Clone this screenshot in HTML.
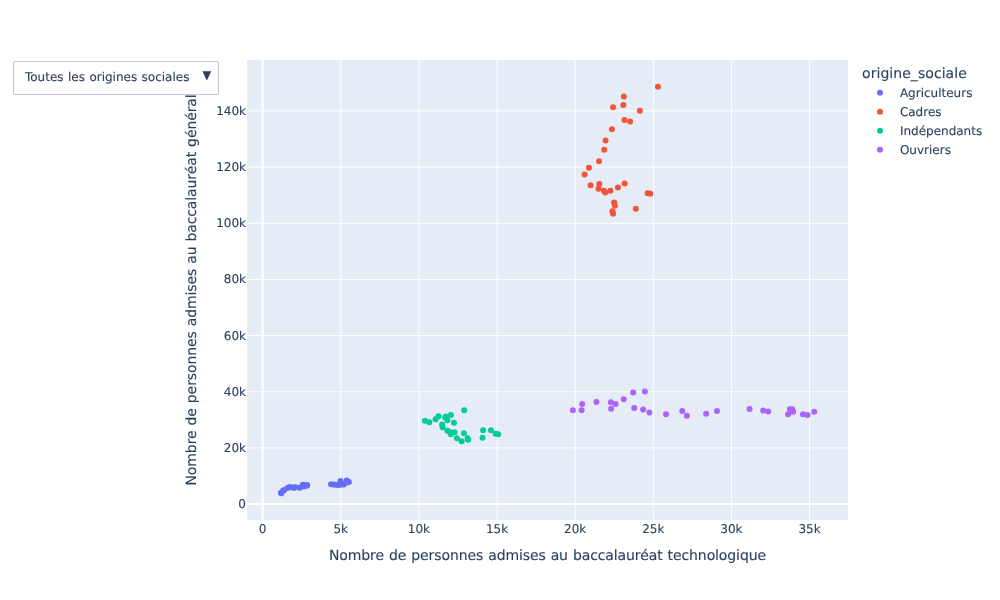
<!DOCTYPE html>
<html lang="fr"><head><meta charset="utf-8"><title>Baccalauréat par origine sociale</title>
<style>
html,body{margin:0;padding:0;background:#fff;}
body{width:1000px;height:600px;overflow:hidden;}
svg{display:block;}
text{text-rendering:geometricPrecision;stroke:#2a3f5f;stroke-width:0.12px;font-family:"DejaVu Sans","Verdana","Liberation Sans",sans-serif;fill:#2a3f5f;}
.t12{font-size:12px;} .t14{font-size:14px;} .ws{word-spacing:0.7px;}
</style></head><body>
<svg width="1000" height="600" viewBox="0 0 1000 600">
<rect x="0" y="0" width="1000" height="600" fill="#fff"/>
<rect x="247" y="60" width="601" height="460" fill="#E5ECF6"/>
<g stroke="#fff" stroke-width="1" shape-rendering="auto"><line x1="340.79" y1="60" x2="340.79" y2="520"/><line x1="418.92" y1="60" x2="418.92" y2="520"/><line x1="497.06" y1="60" x2="497.06" y2="520"/><line x1="575.19" y1="60" x2="575.19" y2="520"/><line x1="653.33" y1="60" x2="653.33" y2="520"/><line x1="731.46" y1="60" x2="731.46" y2="520"/><line x1="809.60" y1="60" x2="809.60" y2="520"/><line x1="247" y1="447.89" x2="848" y2="447.89"/><line x1="247" y1="391.74" x2="848" y2="391.74"/><line x1="247" y1="335.58" x2="848" y2="335.58"/><line x1="247" y1="279.42" x2="848" y2="279.42"/><line x1="247" y1="223.26" x2="848" y2="223.26"/><line x1="247" y1="167.11" x2="848" y2="167.11"/><line x1="247" y1="110.95" x2="848" y2="110.95"/></g>
<g stroke="#fff" stroke-width="2"><line x1="262.65" y1="60" x2="262.65" y2="520"/><line x1="247" y1="504.05" x2="848" y2="504.05"/></g>
<g opacity="1"><circle cx="281.00" cy="492.70" r="3" fill="#636efa"/><circle cx="281.30" cy="493.15" r="3" fill="#636efa"/><circle cx="306.90" cy="485.70" r="3" fill="#636efa"/><circle cx="303.00" cy="484.75" r="3" fill="#636efa"/><circle cx="283.20" cy="490.60" r="3" fill="#636efa"/><circle cx="284.30" cy="490.00" r="3" fill="#636efa"/><circle cx="287.50" cy="488.00" r="3" fill="#636efa"/><circle cx="289.60" cy="486.90" r="3" fill="#636efa"/><circle cx="292.50" cy="487.50" r="3" fill="#636efa"/><circle cx="294.40" cy="487.70" r="3" fill="#636efa"/><circle cx="295.40" cy="487.25" r="3" fill="#636efa"/><circle cx="299.60" cy="487.75" r="3" fill="#636efa"/><circle cx="302.90" cy="484.90" r="3" fill="#636efa"/><circle cx="303.75" cy="486.50" r="3" fill="#636efa"/><circle cx="307.10" cy="485.05" r="3" fill="#636efa"/><circle cx="331.05" cy="484.20" r="3" fill="#636efa"/><circle cx="333.30" cy="484.45" r="3" fill="#636efa"/><circle cx="335.50" cy="484.85" r="3" fill="#636efa"/><circle cx="338.00" cy="484.90" r="3" fill="#636efa"/><circle cx="340.30" cy="484.70" r="3" fill="#636efa"/><circle cx="340.40" cy="480.95" r="3" fill="#636efa"/><circle cx="343.65" cy="484.40" r="3" fill="#636efa"/><circle cx="346.15" cy="482.83" r="3" fill="#636efa"/><circle cx="346.70" cy="480.50" r="3" fill="#636efa"/><circle cx="348.85" cy="482.10" r="3" fill="#636efa"/></g>
<g><circle cx="657.95" cy="86.83" r="3" fill="#EF553B"/><circle cx="623.85" cy="96.43" r="3" fill="#EF553B"/><circle cx="623.35" cy="104.93" r="3" fill="#EF553B"/><circle cx="613.05" cy="107.23" r="3" fill="#EF553B"/><circle cx="639.85" cy="110.63" r="3" fill="#EF553B"/><circle cx="624.35" cy="119.93" r="3" fill="#EF553B"/><circle cx="630.05" cy="121.43" r="3" fill="#EF553B"/><circle cx="611.95" cy="129.23" r="3" fill="#EF553B"/><circle cx="605.55" cy="140.53" r="3" fill="#EF553B"/><circle cx="604.25" cy="149.83" r="3" fill="#EF553B"/><circle cx="599.05" cy="161.23" r="3" fill="#EF553B"/><circle cx="588.95" cy="167.63" r="3" fill="#EF553B"/><circle cx="584.65" cy="174.43" r="3" fill="#EF553B"/><circle cx="590.55" cy="185.23" r="3" fill="#EF553B"/><circle cx="599.35" cy="183.93" r="3" fill="#EF553B"/><circle cx="598.55" cy="188.83" r="3" fill="#EF553B"/><circle cx="603.95" cy="190.63" r="3" fill="#EF553B"/><circle cx="605.25" cy="192.43" r="3" fill="#EF553B"/><circle cx="610.45" cy="190.63" r="3" fill="#EF553B"/><circle cx="617.95" cy="187.53" r="3" fill="#EF553B"/><circle cx="624.65" cy="183.43" r="3" fill="#EF553B"/><circle cx="647.65" cy="193.23" r="3" fill="#EF553B"/><circle cx="650.35" cy="193.80" r="3" fill="#EF553B"/><circle cx="614.05" cy="202.53" r="3" fill="#EF553B"/><circle cx="614.85" cy="205.63" r="3" fill="#EF553B"/><circle cx="635.75" cy="208.73" r="3" fill="#EF553B"/><circle cx="612.45" cy="211.33" r="3" fill="#EF553B"/><circle cx="613.05" cy="213.63" r="3" fill="#EF553B"/></g>
<g><circle cx="424.95" cy="420.83" r="3" fill="#00cc96"/><circle cx="429.35" cy="422.13" r="3" fill="#00cc96"/><circle cx="435.65" cy="419.33" r="3" fill="#00cc96"/><circle cx="438.55" cy="416.13" r="3" fill="#00cc96"/><circle cx="445.15" cy="417.53" r="3" fill="#00cc96"/><circle cx="445.95" cy="416.53" r="3" fill="#00cc96"/><circle cx="447.35" cy="420.13" r="3" fill="#00cc96"/><circle cx="450.95" cy="414.93" r="3" fill="#00cc96"/><circle cx="442.15" cy="424.53" r="3" fill="#00cc96"/><circle cx="442.65" cy="427.33" r="3" fill="#00cc96"/><circle cx="453.95" cy="422.83" r="3" fill="#00cc96"/><circle cx="464.15" cy="410.33" r="3" fill="#00cc96"/><circle cx="447.35" cy="430.83" r="3" fill="#00cc96"/><circle cx="450.15" cy="432.13" r="3" fill="#00cc96"/><circle cx="450.95" cy="434.33" r="3" fill="#00cc96"/><circle cx="454.65" cy="432.13" r="3" fill="#00cc96"/><circle cx="456.95" cy="438.33" r="3" fill="#00cc96"/><circle cx="461.65" cy="441.13" r="3" fill="#00cc96"/><circle cx="463.95" cy="433.33" r="3" fill="#00cc96"/><circle cx="467.65" cy="438.33" r="3" fill="#00cc96"/><circle cx="468.15" cy="439.83" r="3" fill="#00cc96"/><circle cx="483.15" cy="430.25" r="3" fill="#00cc96"/><circle cx="482.55" cy="437.65" r="3" fill="#00cc96"/><circle cx="490.95" cy="430.25" r="3" fill="#00cc96"/><circle cx="495.65" cy="433.83" r="3" fill="#00cc96"/><circle cx="498.15" cy="434.33" r="3" fill="#00cc96"/></g>
<g><circle cx="572.90" cy="410.31" r="3" fill="#ab63fa"/><circle cx="581.60" cy="410.31" r="3" fill="#ab63fa"/><circle cx="582.20" cy="404.01" r="3" fill="#ab63fa"/><circle cx="596.45" cy="402.06" r="3" fill="#ab63fa"/><circle cx="610.85" cy="402.36" r="3" fill="#ab63fa"/><circle cx="611.15" cy="408.66" r="3" fill="#ab63fa"/><circle cx="615.65" cy="404.01" r="3" fill="#ab63fa"/><circle cx="623.75" cy="399.36" r="3" fill="#ab63fa"/><circle cx="633.20" cy="392.61" r="3" fill="#ab63fa"/><circle cx="644.90" cy="391.56" r="3" fill="#ab63fa"/><circle cx="634.25" cy="407.91" r="3" fill="#ab63fa"/><circle cx="643.10" cy="409.56" r="3" fill="#ab63fa"/><circle cx="649.40" cy="412.56" r="3" fill="#ab63fa"/><circle cx="666.05" cy="414.21" r="3" fill="#ab63fa"/><circle cx="682.25" cy="411.06" r="3" fill="#ab63fa"/><circle cx="686.90" cy="415.71" r="3" fill="#ab63fa"/><circle cx="706.10" cy="413.76" r="3" fill="#ab63fa"/><circle cx="717.00" cy="410.91" r="3" fill="#ab63fa"/><circle cx="749.55" cy="408.96" r="3" fill="#ab63fa"/><circle cx="763.20" cy="410.46" r="3" fill="#ab63fa"/><circle cx="768.15" cy="411.51" r="3" fill="#ab63fa"/><circle cx="789.90" cy="409.26" r="3" fill="#ab63fa"/><circle cx="792.15" cy="409.26" r="3" fill="#ab63fa"/><circle cx="793.20" cy="411.81" r="3" fill="#ab63fa"/><circle cx="788.10" cy="414.21" r="3" fill="#ab63fa"/><circle cx="802.95" cy="414.36" r="3" fill="#ab63fa"/><circle cx="807.45" cy="415.11" r="3" fill="#ab63fa"/><circle cx="814.20" cy="411.81" r="3" fill="#ab63fa"/></g>
<g class="t12" text-anchor="middle"><text x="262.65" y="533">0</text><text x="340.79" y="533">5k</text><text x="418.92" y="533">10k</text><text x="497.06" y="533">15k</text><text x="575.19" y="533">20k</text><text x="653.33" y="533">25k</text><text x="731.46" y="533">30k</text><text x="809.60" y="533">35k</text></g>
<g class="t12" text-anchor="end"><text x="246" y="508.05">0</text><text x="246" y="451.89">20k</text><text x="246" y="395.74">40k</text><text x="246" y="339.58">60k</text><text x="246" y="283.42">80k</text><text x="246" y="227.26">100k</text><text x="246" y="171.11">120k</text><text x="246" y="114.95">140k</text></g>
<text class="t14 ws" text-anchor="middle" x="547.5" y="560" textLength="437.1" lengthAdjust="spacing">Nombre de personnes admises au baccalauréat technologique</text>
<text class="t14 ws" text-anchor="middle" transform="rotate(-90 196.5 289.9)" x="196.5" y="289.9" textLength="391.2" lengthAdjust="spacing">Nombre de personnes admises au baccalauréat général</text>
<text class="t14" x="862" y="77.5" textLength="104.8" lengthAdjust="spacing">origine_sociale</text>
<circle cx="880" cy="92.8" r="3" fill="#636efa"/><text class="t12" x="899.9" y="96.8">Agriculteurs</text>
<circle cx="880" cy="111.8" r="3" fill="#EF553B"/><text class="t12" x="899.9" y="115.8">Cadres</text>
<circle cx="880" cy="130.8" r="3" fill="#00cc96"/><text class="t12" x="899.9" y="134.8">Indépendants</text>
<circle cx="880" cy="149.8" r="3" fill="#ab63fa"/><text class="t12" x="899.9" y="153.8">Ouvriers</text>
<rect x="13.5" y="61.5" width="205" height="33" rx="2" ry="2" fill="#fff" stroke="#BEC8D9" stroke-width="1" shape-rendering="crispEdges"/>
<text class="t12 ws" x="25" y="81" textLength="164.4" lengthAdjust="spacing">Toutes les origines sociales</text>
<text class="t12" x="202.6" y="79.1" textLength="8.75" lengthAdjust="spacingAndGlyphs">▼</text>
</svg>
</body></html>
